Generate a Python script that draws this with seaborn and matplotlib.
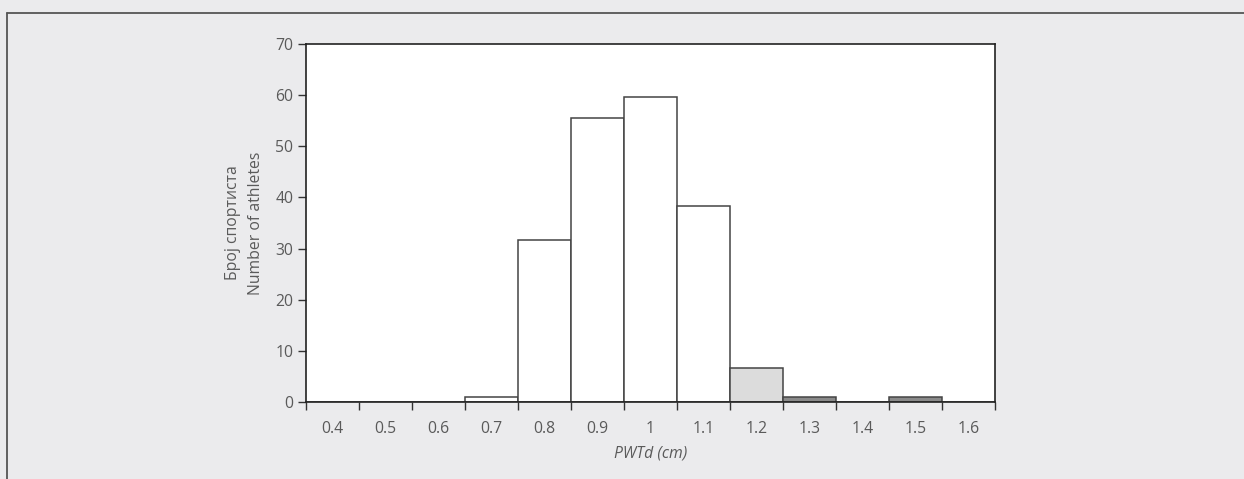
import matplotlib
matplotlib.use("Agg")
import matplotlib.pyplot as plt
import seaborn as sns
import pandas as pd
from matplotlib.lines import Line2D
from matplotlib.ticker import FixedLocator

categories = ["0.4", "0.5", "0.6", "0.7", "0.8", "0.9", "1", "1.1", "1.2", "1.3", "1.4", "1.5", "1.6"]
counts = [0, 0, 0, 1, 31.7, 55.6, 59.6, 38.3, 6.6, 1, 0, 1, 0]
groups = ["normal", "normal", "normal", "normal", "normal", "normal", "normal", "normal",
          "borderline", "high", "high", "high", "high"]
group_colors = {"normal": "#ffffff", "borderline": "#dcdcdc", "high": "#8a8a8a"}
y_ticks = [0, 10, 20, 30, 40, 50, 60, 70]

sns.set_theme(style="white")
plt.rcParams["font.family"] = ["Open Sans", "DejaVu Sans"]

df = pd.DataFrame({"bin": categories, "count": counts, "group": groups})

FS = 11.3
TXT = "#5a5a5a"

fig = plt.figure(figsize=(12.44, 4.79), dpi=100, facecolor="#ebebed")
ax = fig.add_axes([306 / 1244, 1 - 402 / 479, (995 - 306) / 1244, (402 - 44) / 479])
ax.set_facecolor("white")

sns.barplot(data=df, x="bin", y="count", hue="group", palette=group_colors,
            order=categories, width=1.0, dodge=False, legend=False,
            edgecolor="#444444", linewidth=1.1, ax=ax)

ax.set_xlim(-0.5, len(categories) - 0.5)
ax.set_ylim(0, 70)
ax.set_yticks(y_ticks)
ax.set_yticklabels([str(v) for v in y_ticks])

ax.set_xticks(range(len(categories)))
ax.set_xticklabels(categories)
ax.xaxis.set_minor_locator(FixedLocator([i - 0.5 for i in range(len(categories) + 1)]))
ax.tick_params(axis="x", which="major", length=0, pad=14, labelsize=FS, colors=TXT)
ax.tick_params(axis="x", which="minor", length=6, width=1, color="#333333", direction="out", bottom=True)
ax.tick_params(axis="y", which="major", length=6, width=1, color="#333333", direction="out",
               left=True, pad=3, labelsize=FS, labelcolor=TXT)

for s in ax.spines.values():
    s.set_visible(True)
    s.set_color("#222222")
    s.set_linewidth(1.2)

ax.set_xlabel("PWTd (cm)", fontstyle="italic", fontsize=FS, color=TXT, labelpad=6)
ax.set_ylabel("Број спортиста\nNumber of athletes", fontsize=FS, color=TXT,
              labelpad=8, linespacing=1.6)

fig.add_artist(Line2D([7 / 1244, 1.0], [1 - 13 / 479, 1 - 13 / 479], transform=fig.transFigure,
                      color="#555555", linewidth=1.3))
fig.add_artist(Line2D([7 / 1244, 7 / 1244], [0.0, 1 - 13 / 479], transform=fig.transFigure,
                      color="#555555", linewidth=1.3))

fig.savefig("out.png", dpi=100, facecolor=fig.get_facecolor())
